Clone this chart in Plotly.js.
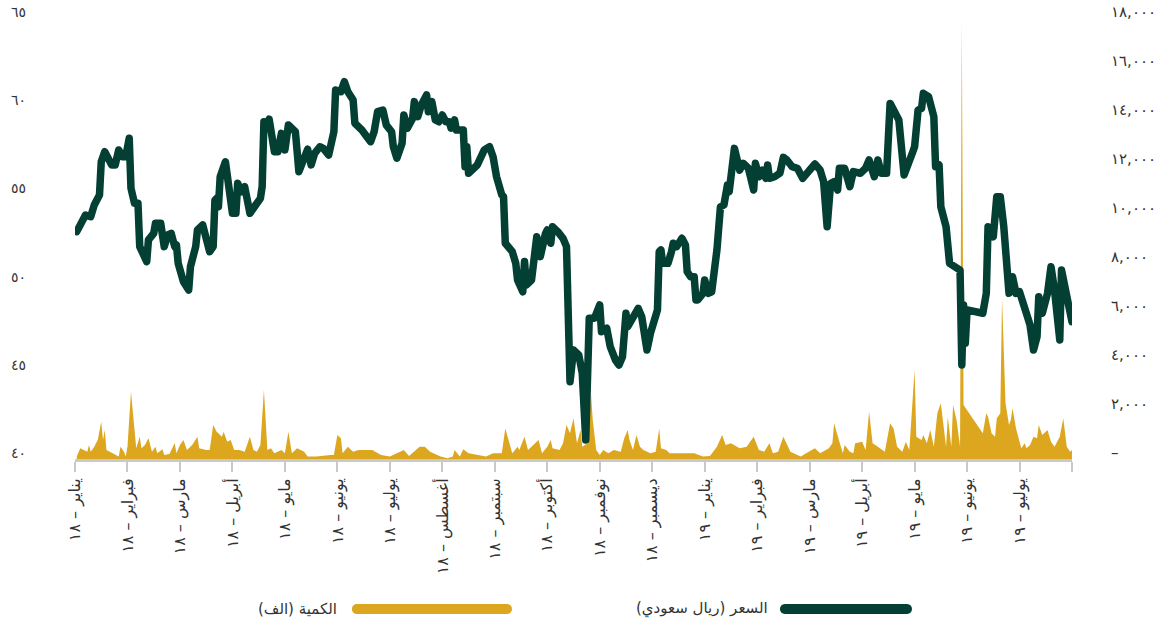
<!DOCTYPE html>
<html>
<head>
<meta charset="utf-8">
<script src="https://cdn.plot.ly/plotly-3.0.1.min.js"></script>
<style>
  html, body { margin: 0; padding: 0; background: #ffffff; }
  #chart { width: 1170px; height: 625px; }
  #chart .scatterlayer .js-line { stroke-linejoin: round !important; stroke-linecap: round !important; }
</style>
</head>
<body>
<div id="chart"></div>
<script>
// Month tick labels (one tick every 30 "day" units on a uniform month axis)
const monthLabels = [
  'يناير – ١٨', 'فبراير – ١٨', 'مارس – ١٨', 'أبريل – ١٨', 'مايو – ١٨', 'يونيو – ١٨',
  'يوليو – ١٨', 'أغسطس – ١٨', 'سبتمبر – ١٨', 'أكتوبر – ١٨', 'نوفمبر – ١٨', 'ديسمبر – ١٨',
  'يناير – ١٩', 'فبراير – ١٩', 'مارس – ١٩', 'أبريل – ١٩', 'مايو – ١٩', 'يونيو – ١٩',
  'يوليو – ١٩', ''
];
const daysPerMonth = 30;

// Price axis ticks (left)
const priceTicks = [40, 45, 50, 55, 60, 65];
const priceTickText = ['٤٠', '٤٥', '٥٠', '٥٥', '٦٠', '٦٥'];

// Volume axis ticks (right)
const volumeTicks = [0, 2000, 4000, 6000, 8000, 10000, 12000, 14000, 16000, 18000];
const volumeTickText = ['–', '٢,٠٠٠', '٤,٠٠٠', '٦,٠٠٠', '٨,٠٠٠', '١٠,٠٠٠', '١٢,٠٠٠', '١٤,٠٠٠', '١٦,٠٠٠', '١٨,٠٠٠'];

// Price series (SAR)
const priceDay = [1,6,9,11,14,15,17,21,23,25,27,29,31,32,34,36,37,41,42,45,46,49,51,53,55,57,58,59,62,65,66,69,70,73,77,79,80,81,82,83,86,90,92,93,95,97,100,104,106,107,108,110,111,114,116,118,120,122,126,128,131,133,135,137,140,142,145,148,149,152,154,156,159,160,164,169,171,173,176,178,181,182,184,187,188,190,193,194,196,198,201,202,204,206,208,210,212,214,215,217,218,222,223,224,225,230,234,237,239,241,244,245,246,250,252,253,256,257,258,261,264,266,269,270,272,273,276,279,281,282,283,285,288,290,292,294,297,300,301,304,306,309,311,313,314,315,316,319,322,324,327,329,333,334,335,336,339,341,342,344,347,349,350,352,354,355,356,359,360,362,364,367,369,371,373,374,376,377,380,382,385,388,389,391,393,395,396,397,400,403,405,407,410,413,416,419,423,426,428,430,432,434,436,437,440,443,445,449,452,454,457,459,461,464,466,469,471,474,476,479,480,482,484,485,488,491,492,494,495,498,500,502,506,507,508,509,510,519,521,522,525,527,529,531,534,536,538,540,542,546,548,550,551,553,556,558,560,563,564,567,569,570];
const price = [52.89,53.83,53.74,54.40,54.97,56.85,57.42,56.67,56.67,57.52,57.14,57.14,58.18,55.35,54.50,54.50,52.04,51.19,52.42,52.79,53.36,53.36,52.04,52.70,52.79,52.04,52.13,51.09,50.05,49.58,50.90,52.04,52.98,53.27,51.75,52.04,54.68,54.78,54.30,56.00,56.85,53.93,53.93,55.63,55.15,55.44,53.93,54.59,54.78,55.44,59.12,59.03,59.26,57.42,57.42,58.46,57.52,58.93,58.55,56.29,57.05,57.56,56.67,57.33,57.70,57.61,57.23,58.55,60.92,60.82,61.39,60.82,60.35,59.03,58.65,57.99,58.55,59.69,59.78,58.93,58.55,57.70,57.05,57.90,59.50,58.75,59.31,60.26,59.41,60.07,60.64,59.69,60.26,59.22,59.12,59.50,59.12,59.12,58.75,59.22,58.65,58.65,56.57,57.70,56.20,56.67,57.52,57.70,57.14,56.00,54.97,54.87,52.23,51.75,51.09,50.15,49.48,51.19,49.86,50.15,52.60,51.47,52.79,52.98,52.23,53.17,52.89,52.51,52.04,47.50,44.38,46.18,45.90,44.86,41.08,47.98,47.98,48.73,47.22,47.41,46.37,45.61,45.33,45.80,46.84,48.26,47.50,47.98,48.54,48.07,46.18,47.13,48.45,51.75,51.85,51.09,51.09,51.75,52.23,52.04,52.51,52.13,50.62,50.33,50.33,49.01,49.01,49.39,50.15,49.39,49.48,51.85,54.30,54.40,55.53,55.15,56.38,57.61,56.38,56.76,56.48,55.25,56.76,56.00,56.38,55.91,56.67,55.91,56.00,56.20,57.10,56.95,56.57,56.48,55.91,56.20,56.72,56.38,55.72,53.17,55.63,55.72,55.25,56.48,56.48,55.44,56.29,56.20,56.48,56.95,56.00,56.95,56.20,56.20,60.16,59.60,59.22,56.10,56.76,57.42,57.70,59.78,59.88,60.73,60.54,59.41,56.57,56.67,54.30,53.17,51.09,51.00,50.71,45.33,48.73,46.56,48.45,48.26,49.39,53.17,52.60,54.87,54.87,53.17,49.39,50.33,49.39,49.48,48.73,47.60,46.18,46.93,49.20,48.26,49.39,50.90,49.58,46.75,50.71,49.39,48.26,47.78];

// Volume series (thousands)
const volumeDay = [1,3,7,8,9,11,13,15,16,17,18,22,25,26,28,29,30,32,34,35,37,38,40,42,44,46,47,50,51,54,57,58,60,62,64,67,70,71,75,77,79,81,84,85,87,89,91,94,97,100,102,104,106,108,110,112,114,118,120,122,124,127,131,133,138,140,146,148,150,152,153,156,159,162,170,175,180,184,188,191,195,197,200,203,209,213,216,217,220,222,225,235,239,244,246,250,253,254,257,259,265,267,270,272,273,277,279,281,283,285,287,289,290,293,295,296,298,300,302,305,308,312,314,316,317,319,321,323,325,329,332,334,335,338,340,346,354,359,363,367,370,372,375,380,384,388,391,394,397,399,402,405,409,413,415,418,423,426,430,431,433,434,437,439,440,443,445,446,450,452,454,456,459,463,466,468,470,473,475,477,480,481,484,485,487,489,491,493,495,498,499,501,502,504,506,507,508,519,521,522,524,526,527,529,530,532,534,535,536,538,541,543,544,546,548,550,551,553,556,558,560,563,565,567,569,570];
const volume = [100,437,300,570,300,500,775,1520,775,1180,370,230,100,500,300,100,500,2750,1180,437,910,437,570,845,300,500,230,395,160,200,640,230,570,775,370,570,910,437,370,370,1390,1115,910,1115,705,775,370,370,300,910,370,300,570,2815,370,437,230,370,230,1115,230,437,300,100,100,120,160,160,980,845,230,500,300,370,370,160,100,230,370,120,370,500,500,300,100,30,100,370,100,395,230,100,230,230,1250,230,500,370,910,370,775,230,500,775,437,370,640,1390,1050,1660,640,1180,500,640,2680,1590,370,160,370,230,370,300,845,1180,775,370,980,500,370,230,300,1250,437,370,230,230,230,100,120,500,980,570,640,437,500,910,370,300,640,230,300,910,300,160,100,230,437,230,370,437,640,1455,705,230,570,300,230,640,705,370,1930,640,500,300,1455,1250,500,300,705,370,3630,910,775,980,640,1180,500,1865,2275,500,1725,500,2205,1590,500,17900,2205,1050,1865,1725,1050,910,1660,1865,6560,2275,1390,1590,2070,1250,437,640,437,570,910,845,1390,980,1180,705,500,910,1660,500,300,370];

const legendLabels = ['السعر (ريال سعودي)', 'الكمية (الف)'];
const priceColor = '#033f33';
const volumeColor = '#dca71f';

const monthTickVals = monthLabels.map((_, i) => i * daysPerMonth);
const fontFam = 'DejaVu Sans, Noto Sans, sans-serif';

const traces = [
  {
    type: 'scatter', mode: 'lines', x: volumeDay, y: volume,
    fill: 'tozeroy', fillcolor: volumeColor,
    line: { width: 0, color: volumeColor },
    yaxis: 'y', hoverinfo: 'skip'
  },
  {
    type: 'scatter', mode: 'lines', x: priceDay, y: price,
    line: { width: 7.5, color: priceColor },
    yaxis: 'y2', hoverinfo: 'skip'
  }
];

// Legend drawn manually (long rounded bars)
function bar(xAnchor, len, color) {
  const L = len - 10;
  return {
    type: 'path', xref: 'paper', yref: 'paper',
    xsizemode: 'pixel', ysizemode: 'pixel',
    xanchor: xAnchor, yanchor: -0.3401,
    path: 'M0,-5 H' + L + ' C' + (L + 6.7) + ',-5 ' + (L + 6.7) + ',5 ' + L + ',5 H0 C-6.7,5 -6.7,-5 0,-5 Z',
    fillcolor: color, line: { width: 0 }
  };
}

const layout = {
  width: 1170, height: 625,
  margin: { l: 75, r: 98, t: 18, b: 166 },
  paper_bgcolor: '#ffffff', plot_bgcolor: '#ffffff',
  showlegend: false, hovermode: false,
  font: { family: fontFam, color: '#333333', size: 13 },
  xaxis: {
    range: [0, 570], tickmode: 'array', tickvals: monthTickVals, ticktext: monthLabels,
    showgrid: false, zeroline: false, showline: true, linecolor: '#c9c9c9', linewidth: 3,
    ticks: 'outside', ticklen: 10, tickwidth: 2, tickcolor: '#c9c9c9',
    tickangle: -90, tickfont: { size: 16, color: '#333333', family: fontFam }
  },
  yaxis: {
    side: 'right', range: [0, 18000], tickmode: 'array',
    tickvals: volumeTicks, ticktext: volumeTickText,
    showgrid: false, zeroline: false, showline: false, ticks: '',
    ticklabelstandoff: 38, ticklabelshift: -6,
    tickfont: { size: 15, color: '#333333', family: fontFam }
  },
  yaxis2: {
    overlaying: 'y', side: 'left', range: [40, 65], tickmode: 'array',
    tickvals: priceTicks, ticktext: priceTickText,
    showgrid: false, zeroline: false, showline: false, ticks: '',
    ticklabelstandoff: 48, ticklabelshift: -6,
    tickfont: { size: 14, color: '#333333', family: fontFam }
  },
  shapes: [ bar(0.7121, 132, priceColor), bar(0.2828, 160, volumeColor) ],
  annotations: [
    { xref: 'paper', yref: 'paper', x: 0.6971, y: -0.3401, xanchor: 'right', yanchor: 'middle',
      text: legendLabels[0], showarrow: false, font: { size: 15, color: '#333333', family: fontFam } },
    { xref: 'paper', yref: 'paper', x: 0.2648, y: -0.3401, xanchor: 'right', yanchor: 'middle',
      text: legendLabels[1], showarrow: false, font: { size: 15, color: '#333333', family: fontFam } }
  ]
};

Plotly.newPlot('chart', traces, layout, { displayModeBar: false, staticPlot: true });
</script>
</body>
</html>
